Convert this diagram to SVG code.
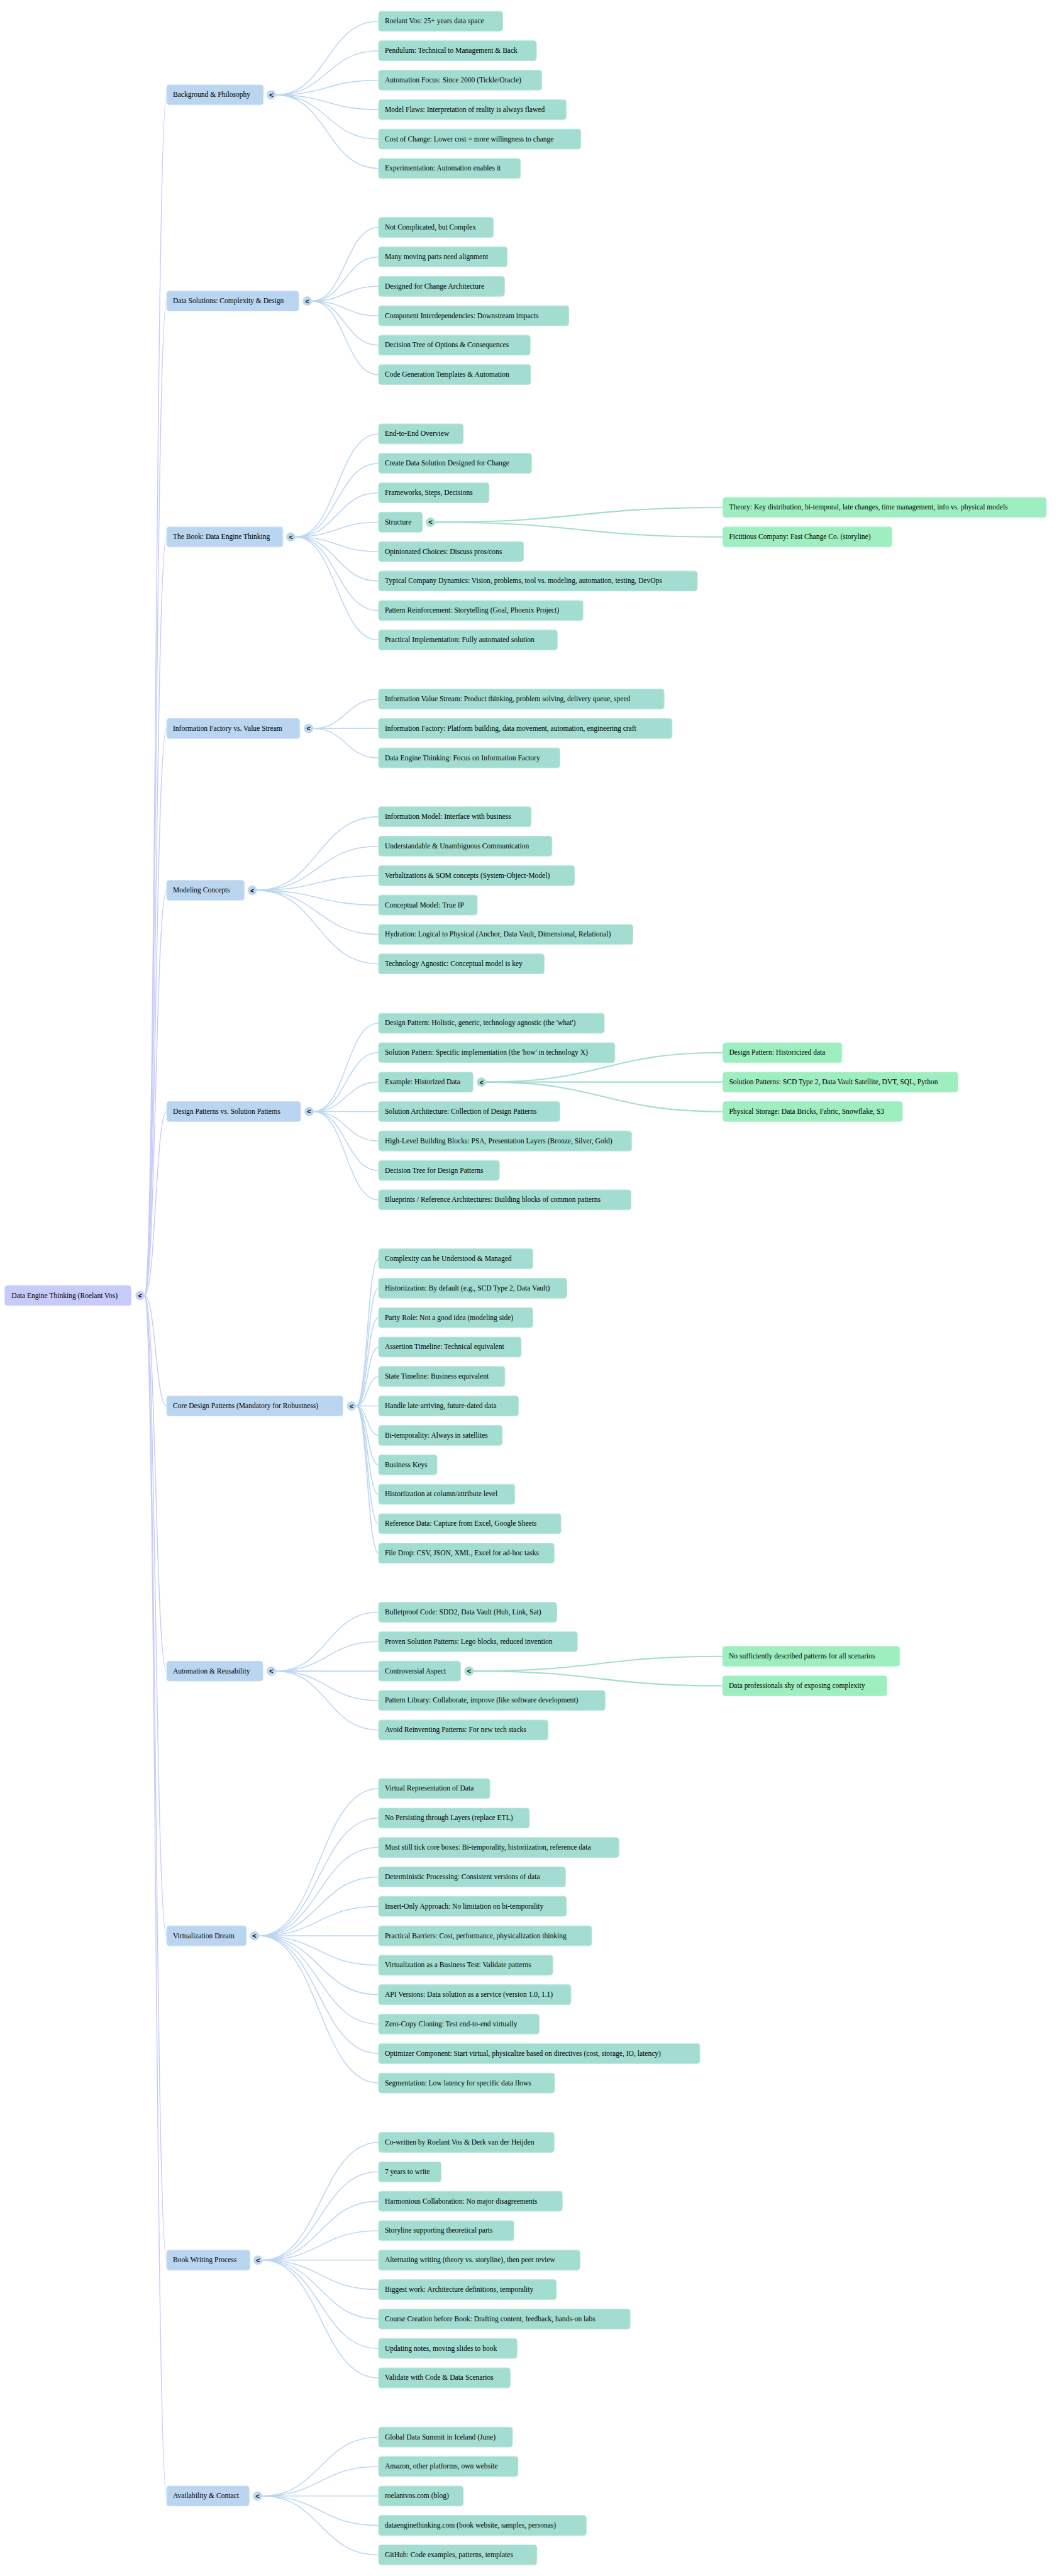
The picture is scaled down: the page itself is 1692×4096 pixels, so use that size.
<svg xmlns="http://www.w3.org/2000/svg" width="1692" height="4096" viewBox="0 0 1692 4096">
<style>
text{font-family:"Liberation Serif","Times New Roman",serif;font-size:16.4px;fill:#000;dominant-baseline:central}
.tg text{font-family:"Liberation Sans",Arial,sans-serif;font-size:15px;font-weight:bold;text-anchor:middle}
.r rect,.r circle{fill:#c6cbfb;stroke:#d3d7fc;stroke-width:1.5}
.l1 rect,.l1 circle{fill:#bad5f0;stroke:#cbe0f5;stroke-width:1.5}
.l2 rect,.l2 circle{fill:#a3ddd1;stroke:#b9e7dc;stroke-width:1.5}
.l3 rect{fill:#9eeec0;stroke:#b3f3ce;stroke-width:1.5}
#connectors path{fill:none}
.c0{stroke:#c5cbfb;stroke-width:2}
.c1{stroke:#bcd6f1;stroke-width:2.2}
.c2{stroke:#a3ddd1;stroke-width:3}
</style>
<rect width="1692" height="4096" fill="#fff"/>
<g transform="scale(0.705)">
<g id="connectors">
<path class="c0" d="M326 2922C351 2922 351 214 376 214"/>
<path class="c0" d="M326 2922C351 2922 351 679 376 679"/>
<path class="c0" d="M326 2922C351 2922 351 1211 376 1211"/>
<path class="c0" d="M326 2922C351 2922 351 1643 376 1643"/>
<path class="c0" d="M326 2922C351 2922 351 2008 376 2008"/>
<path class="c0" d="M326 2922C351 2922 351 2507 376 2507"/>
<path class="c0" d="M326 2922C351 2922 351 3171 376 3171"/>
<path class="c0" d="M326 2922C351 2922 351 3769 376 3769"/>
<path class="c0" d="M326 2922C351 2922 351 4366 376 4366"/>
<path class="c0" d="M326 2922C351 2922 351 5097.5 376 5097.5"/>
<path class="c0" d="M326 2922C351 2922 351 5629.5 376 5629.5"/>

<path class="c1" d="M622 214C738 214 738 48 854 48"/>
<path class="c1" d="M622 214C738 214 738 114.4 854 114.4"/>
<path class="c1" d="M622 214C738 214 738 180.8 854 180.8"/>
<path class="c1" d="M622 214C738 214 738 247.2 854 247.2"/>
<path class="c1" d="M622 214C738 214 738 313.6 854 313.6"/>
<path class="c1" d="M622 214C738 214 738 380 854 380"/>

<path class="c1" d="M703 679C778.5 679 778.5 513 854 513"/>
<path class="c1" d="M703 679C778.5 679 778.5 579.4 854 579.4"/>
<path class="c1" d="M703 679C778.5 679 778.5 645.8 854 645.8"/>
<path class="c1" d="M703 679C778.5 679 778.5 712.2 854 712.2"/>
<path class="c1" d="M703 679C778.5 679 778.5 778.6 854 778.6"/>
<path class="c1" d="M703 679C778.5 679 778.5 845 854 845"/>

<path class="c1" d="M666 1211C760 1211 760 978.6 854 978.6"/>
<path class="c1" d="M666 1211C760 1211 760 1045 854 1045"/>
<path class="c1" d="M666 1211C760 1211 760 1111.4 854 1111.4"/>
<path class="c1" d="M666 1211C760 1211 760 1177.8 854 1177.8"/>
<path class="c1" d="M666 1211C760 1211 760 1244.2 854 1244.2"/>
<path class="c1" d="M666 1211C760 1211 760 1310.6 854 1310.6"/>
<path class="c1" d="M666 1211C760 1211 760 1377 854 1377"/>
<path class="c1" d="M666 1211C760 1211 760 1443.4 854 1443.4"/>

<path class="c1" d="M706 1643C780 1643 780 1576.6 854 1576.6"/>
<path class="c1" d="M706 1643C780 1643 780 1643 854 1643"/>
<path class="c1" d="M706 1643C780 1643 780 1709.4 854 1709.4"/>

<path class="c1" d="M579 2008C716.5 2008 716.5 1842 854 1842"/>
<path class="c1" d="M579 2008C716.5 2008 716.5 1908.4 854 1908.4"/>
<path class="c1" d="M579 2008C716.5 2008 716.5 1974.8 854 1974.8"/>
<path class="c1" d="M579 2008C716.5 2008 716.5 2041.2 854 2041.2"/>
<path class="c1" d="M579 2008C716.5 2008 716.5 2107.6 854 2107.6"/>
<path class="c1" d="M579 2008C716.5 2008 716.5 2174 854 2174"/>

<path class="c1" d="M707 2507C780.5 2507 780.5 2307.8 854 2307.8"/>
<path class="c1" d="M707 2507C780.5 2507 780.5 2374.2 854 2374.2"/>
<path class="c1" d="M707 2507C780.5 2507 780.5 2440.6 854 2440.6"/>
<path class="c1" d="M707 2507C780.5 2507 780.5 2507 854 2507"/>
<path class="c1" d="M707 2507C780.5 2507 780.5 2573.4 854 2573.4"/>
<path class="c1" d="M707 2507C780.5 2507 780.5 2639.8 854 2639.8"/>
<path class="c1" d="M707 2507C780.5 2507 780.5 2706.2 854 2706.2"/>

<path class="c1" d="M803 3171C828.5 3171 828.5 2839 854 2839"/>
<path class="c1" d="M803 3171C828.5 3171 828.5 2905.4 854 2905.4"/>
<path class="c1" d="M803 3171C828.5 3171 828.5 2971.8 854 2971.8"/>
<path class="c1" d="M803 3171C828.5 3171 828.5 3038.2 854 3038.2"/>
<path class="c1" d="M803 3171C828.5 3171 828.5 3104.6 854 3104.6"/>
<path class="c1" d="M803 3171C828.5 3171 828.5 3171 854 3171"/>
<path class="c1" d="M803 3171C828.5 3171 828.5 3237.4 854 3237.4"/>
<path class="c1" d="M803 3171C828.5 3171 828.5 3303.8 854 3303.8"/>
<path class="c1" d="M803 3171C828.5 3171 828.5 3370.2 854 3370.2"/>
<path class="c1" d="M803 3171C828.5 3171 828.5 3436.6 854 3436.6"/>
<path class="c1" d="M803 3171C828.5 3171 828.5 3503 854 3503"/>

<path class="c1" d="M622 3769C738 3769 738 3636.2 854 3636.2"/>
<path class="c1" d="M622 3769C738 3769 738 3702.6 854 3702.6"/>
<path class="c1" d="M622 3769C738 3769 738 3769 854 3769"/>
<path class="c1" d="M622 3769C738 3769 738 3835.4 854 3835.4"/>
<path class="c1" d="M622 3769C738 3769 738 3901.8 854 3901.8"/>

<path class="c1" d="M584 4366C719 4366 719 4034 854 4034"/>
<path class="c1" d="M584 4366C719 4366 719 4100.4 854 4100.4"/>
<path class="c1" d="M584 4366C719 4366 719 4166.8 854 4166.8"/>
<path class="c1" d="M584 4366C719 4366 719 4233.2 854 4233.2"/>
<path class="c1" d="M584 4366C719 4366 719 4299.6 854 4299.6"/>
<path class="c1" d="M584 4366C719 4366 719 4366 854 4366"/>
<path class="c1" d="M584 4366C719 4366 719 4432.4 854 4432.4"/>
<path class="c1" d="M584 4366C719 4366 719 4498.8 854 4498.8"/>
<path class="c1" d="M584 4366C719 4366 719 4565.2 854 4565.2"/>
<path class="c1" d="M584 4366C719 4366 719 4631.6 854 4631.6"/>
<path class="c1" d="M584 4366C719 4366 719 4698 854 4698"/>

<path class="c1" d="M592 5097.5C723 5097.5 723 4831.9 854 4831.9"/>
<path class="c1" d="M592 5097.5C723 5097.5 723 4898.3 854 4898.3"/>
<path class="c1" d="M592 5097.5C723 5097.5 723 4964.7 854 4964.7"/>
<path class="c1" d="M592 5097.5C723 5097.5 723 5031.1 854 5031.1"/>
<path class="c1" d="M592 5097.5C723 5097.5 723 5097.5 854 5097.5"/>
<path class="c1" d="M592 5097.5C723 5097.5 723 5163.9 854 5163.9"/>
<path class="c1" d="M592 5097.5C723 5097.5 723 5230.3 854 5230.3"/>
<path class="c1" d="M592 5097.5C723 5097.5 723 5296.7 854 5296.7"/>
<path class="c1" d="M592 5097.5C723 5097.5 723 5363.1 854 5363.1"/>

<path class="c1" d="M591 5629.5C722.5 5629.5 722.5 5496.7 854 5496.7"/>
<path class="c1" d="M591 5629.5C722.5 5629.5 722.5 5563.1 854 5563.1"/>
<path class="c1" d="M591 5629.5C722.5 5629.5 722.5 5629.5 854 5629.5"/>
<path class="c1" d="M591 5629.5C722.5 5629.5 722.5 5695.9 854 5695.9"/>
<path class="c1" d="M591 5629.5C722.5 5629.5 722.5 5762.3 854 5762.3"/>

<path class="c2" d="M981 1177.8C1305.8 1177.8 1305.8 1144.6 1630.6 1144.6"/>
<path class="c2" d="M981 1177.8C1305.8 1177.8 1305.8 1211 1630.6 1211"/>
<path class="c2" d="M1096 2440.6C1363 2440.6 1363 2374.2 1630.6 2374.2"/>
<path class="c2" d="M1096 2440.6C1363 2440.6 1363 2440.6 1630.6 2440.6"/>
<path class="c2" d="M1096 2440.6C1363 2440.6 1363 2507 1630.6 2507"/>
<path class="c2" d="M1068 3769C1349 3769 1349 3735.8 1630 3735.8"/>
<path class="c2" d="M1068 3769C1349 3769 1349 3802.2 1630 3802.2"/>
</g>

<g id="root" class="r"><rect x="11" y="2899.5" width="285" height="45" rx="6"/><text x="26" y="2922">Data Engine Thinking (Roelant Vos)</text><g class="tg"><circle cx="316" cy="2922" r="10"/><text x="316" y="2922">&lt;</text></g></g>

<g id="n-background" class="l1"><rect x="376" y="191.5" width="218" height="45" rx="6"/><text x="390" y="214">Background &amp; Philosophy</text><g class="tg"><circle cx="612" cy="214" r="10"/><text x="612" y="214">&lt;</text></g></g>
<g id="n-datasolutions" class="l1"><rect x="376" y="656.5" width="298" height="45" rx="6"/><text x="390" y="679">Data Solutions: Complexity &amp; Design</text><g class="tg"><circle cx="693" cy="679" r="10"/><text x="693" y="679">&lt;</text></g></g>
<g id="n-book" class="l1"><rect x="376" y="1188.5" width="262" height="45" rx="6"/><text x="390" y="1211">The Book: Data Engine Thinking</text><g class="tg"><circle cx="656" cy="1211" r="10"/><text x="656" y="1211">&lt;</text></g></g>
<g id="n-infofactory" class="l1"><rect x="376" y="1620.5" width="300" height="45" rx="6"/><text x="390" y="1643">Information Factory vs. Value Stream</text><g class="tg"><circle cx="696" cy="1643" r="10"/><text x="696" y="1643">&lt;</text></g></g>
<g id="n-modeling" class="l1"><rect x="376" y="1985.5" width="175" height="45" rx="6"/><text x="390" y="2008">Modeling Concepts</text><g class="tg"><circle cx="569" cy="2008" r="10"/><text x="569" y="2008">&lt;</text></g></g>
<g id="n-designpatterns" class="l1"><rect x="376" y="2484.5" width="302" height="45" rx="6"/><text x="390" y="2507">Design Patterns vs. Solution Patterns</text><g class="tg"><circle cx="697" cy="2507" r="10"/><text x="697" y="2507">&lt;</text></g></g>
<g id="n-core" class="l1"><rect x="376" y="3148.5" width="397.5" height="45" rx="6"/><text x="390" y="3171">Core Design Patterns (Mandatory for Robustness)</text><g class="tg"><circle cx="793" cy="3171" r="10"/><text x="793" y="3171">&lt;</text></g></g>
<g id="n-automation" class="l1"><rect x="376" y="3746.5" width="217" height="45" rx="6"/><text x="390" y="3769">Automation &amp; Reusability</text><g class="tg"><circle cx="612" cy="3769" r="10"/><text x="612" y="3769">&lt;</text></g></g>
<g id="n-virtualization" class="l1"><rect x="376" y="4343.5" width="179.5" height="45" rx="6"/><text x="390" y="4366">Virtualization Dream</text><g class="tg"><circle cx="574" cy="4366" r="10"/><text x="574" y="4366">&lt;</text></g></g>
<g id="n-bookwriting" class="l1"><rect x="376" y="5075" width="188" height="45" rx="6"/><text x="390" y="5097.5">Book Writing Process</text><g class="tg"><circle cx="582" cy="5097.5" r="10"/><text x="582" y="5097.5">&lt;</text></g></g>
<g id="n-availability" class="l1"><rect x="376" y="5607" width="186" height="45" rx="6"/><text x="390" y="5629.5">Availability &amp; Contact</text><g class="tg"><circle cx="581" cy="5629.5" r="10"/><text x="581" y="5629.5">&lt;</text></g></g>

<g id="n-bg-1" class="l2"><rect x="854" y="25.5" width="280" height="45" rx="6"/><text x="868" y="48">Roelant Vos: 25+ years data space</text></g>
<g id="n-bg-2" class="l2"><rect x="854" y="91.9" width="356" height="45" rx="6"/><text x="868" y="114.4">Pendulum: Technical to Management &amp; Back</text></g>
<g id="n-bg-3" class="l2"><rect x="854" y="158.3" width="368" height="45" rx="6"/><text x="868" y="180.8">Automation Focus: Since 2000 (Tickle/Oracle)</text></g>
<g id="n-bg-4" class="l2"><rect x="854" y="224.7" width="423" height="45" rx="6"/><text x="868" y="247.2">Model Flaws: Interpretation of reality is always flawed</text></g>
<g id="n-bg-5" class="l2"><rect x="854" y="291.1" width="456" height="45" rx="6"/><text x="868" y="313.6">Cost of Change: Lower cost = more willingness to change</text></g>
<g id="n-bg-6" class="l2"><rect x="854" y="357.5" width="320" height="45" rx="6"/><text x="868" y="380">Experimentation: Automation enables it</text></g>

<g id="n-ds-1" class="l2"><rect x="854" y="490.5" width="259" height="45" rx="6"/><text x="868" y="513">Not Complicated, but Complex</text></g>
<g id="n-ds-2" class="l2"><rect x="854" y="556.9" width="290" height="45" rx="6"/><text x="868" y="579.4">Many moving parts need alignment</text></g>
<g id="n-ds-3" class="l2"><rect x="854" y="623.3" width="284" height="45" rx="6"/><text x="868" y="645.8">Designed for Change Architecture</text></g>
<g id="n-ds-4" class="l2"><rect x="854" y="689.7" width="429" height="45" rx="6"/><text x="868" y="712.2">Component Interdependencies: Downstream impacts</text></g>
<g id="n-ds-5" class="l2"><rect x="854" y="756.1" width="342" height="45" rx="6"/><text x="868" y="778.6">Decision Tree of Options &amp; Consequences</text></g>
<g id="n-ds-6" class="l2"><rect x="854" y="822.5" width="343" height="45" rx="6"/><text x="868" y="845">Code Generation Templates &amp; Automation</text></g>

<g id="n-bk-1" class="l2"><rect x="854" y="956.1" width="191" height="45" rx="6"/><text x="868" y="978.6">End-to-End Overview</text></g>
<g id="n-bk-2" class="l2"><rect x="854" y="1022.5" width="345" height="45" rx="6"/><text x="868" y="1045">Create Data Solution Designed for Change</text></g>
<g id="n-bk-3" class="l2"><rect x="854" y="1088.9" width="249" height="45" rx="6"/><text x="868" y="1111.4">Frameworks, Steps, Decisions</text></g>
<g id="n-bk-4" class="l2"><rect x="854" y="1155.3" width="99" height="45" rx="6"/><text x="868" y="1177.8">Structure</text><g class="tg"><circle cx="971" cy="1177.8" r="10"/><text x="971" y="1177.8">&lt;</text></g></g>
<g id="n-bk-5" class="l2"><rect x="854" y="1221.7" width="327" height="45" rx="6"/><text x="868" y="1244.2">Opinionated Choices: Discuss pros/cons</text></g>
<g id="n-bk-6" class="l2"><rect x="854" y="1288.1" width="719" height="45" rx="6"/><text x="868" y="1310.6">Typical Company Dynamics: Vision, problems, tool vs. modeling, automation, testing, DevOps</text></g>
<g id="n-bk-7" class="l2"><rect x="854" y="1354.5" width="461" height="45" rx="6"/><text x="868" y="1377">Pattern Reinforcement: Storytelling (Goal, Phoenix Project)</text></g>
<g id="n-bk-8" class="l2"><rect x="854" y="1420.9" width="403" height="45" rx="6"/><text x="868" y="1443.4">Practical Implementation: Fully automated solution</text></g>
<g id="n-bk-4-1" class="l3"><rect x="1630.6" y="1122.1" width="729.4" height="45" rx="6"/><text x="1644.6" y="1144.6">Theory: Key distribution, bi-temporal, late changes, time management, info vs. physical models</text></g>
<g id="n-bk-4-2" class="l3"><rect x="1630.6" y="1188.5" width="381.4" height="45" rx="6"/><text x="1644.6" y="1211">Fictitious Company: Fast Change Co. (storyline)</text></g>

<g id="n-if-1" class="l2"><rect x="854" y="1554.1" width="644" height="45" rx="6"/><text x="868" y="1576.6">Information Value Stream: Product thinking, problem solving, delivery queue, speed</text></g>
<g id="n-if-2" class="l2"><rect x="854" y="1620.5" width="662" height="45" rx="6"/><text x="868" y="1643">Information Factory: Platform building, data movement, automation, engineering craft</text></g>
<g id="n-if-3" class="l2"><rect x="854" y="1686.9" width="409" height="45" rx="6"/><text x="868" y="1709.4">Data Engine Thinking: Focus on Information Factory</text></g>

<g id="n-mc-1" class="l2"><rect x="854" y="1819.5" width="344" height="45" rx="6"/><text x="868" y="1842">Information Model: Interface with business</text></g>
<g id="n-mc-2" class="l2"><rect x="854" y="1885.9" width="391" height="45" rx="6"/><text x="868" y="1908.4">Understandable &amp; Unambiguous Communication</text></g>
<g id="n-mc-3" class="l2"><rect x="854" y="1952.3" width="442" height="45" rx="6"/><text x="868" y="1974.8">Verbalizations &amp; SOM concepts (System-Object-Model)</text></g>
<g id="n-mc-4" class="l2"><rect x="854" y="2018.7" width="222.5" height="45" rx="6"/><text x="868" y="2041.2">Conceptual Model: True IP</text></g>
<g id="n-mc-5" class="l2"><rect x="854" y="2085.1" width="573.6" height="45" rx="6"/><text x="868" y="2107.6">Hydration: Logical to Physical (Anchor, Data Vault, Dimensional, Relational)</text></g>
<g id="n-mc-6" class="l2"><rect x="854" y="2151.5" width="373.6" height="45" rx="6"/><text x="868" y="2174">Technology Agnostic: Conceptual model is key</text></g>

<g id="n-dp-1" class="l2"><rect x="854" y="2285.3" width="509" height="45" rx="6"/><text x="868" y="2307.8">Design Pattern: Holistic, generic, technology agnostic (the 'what')</text></g>
<g id="n-dp-2" class="l2"><rect x="854" y="2351.7" width="533" height="45" rx="6"/><text x="868" y="2374.2">Solution Pattern: Specific implementation (the 'how' in technology X)</text></g>
<g id="n-dp-3" class="l2"><rect x="854" y="2418.1" width="213" height="45" rx="6"/><text x="868" y="2440.6">Example: Historized Data</text><g class="tg"><circle cx="1086" cy="2440.6" r="10"/><text x="1086" y="2440.6">&lt;</text></g></g>
<g id="n-dp-4" class="l2"><rect x="854" y="2484.5" width="409" height="45" rx="6"/><text x="868" y="2507">Solution Architecture: Collection of Design Patterns</text></g>
<g id="n-dp-5" class="l2"><rect x="854" y="2550.9" width="570.5" height="45" rx="6"/><text x="868" y="2573.4">High-Level Building Blocks: PSA, Presentation Layers (Bronze, Silver, Gold)</text></g>
<g id="n-dp-6" class="l2"><rect x="854" y="2617.3" width="272.5" height="45" rx="6"/><text x="868" y="2639.8">Decision Tree for Design Patterns</text></g>
<g id="n-dp-7" class="l2"><rect x="854" y="2683.7" width="569.5" height="45" rx="6"/><text x="868" y="2706.2">Blueprints / Reference Architectures: Building blocks of common patterns</text></g>
<g id="n-dp-3-1" class="l3"><rect x="1630.6" y="2351.7" width="268.4" height="45" rx="6"/><text x="1644.6" y="2374.2">Design Pattern: Historicized data</text></g>
<g id="n-dp-3-2" class="l3"><rect x="1630.6" y="2418.1" width="530.4" height="45" rx="6"/><text x="1644.6" y="2440.6">Solution Patterns: SCD Type 2, Data Vault Satellite, DVT, SQL, Python</text></g>
<g id="n-dp-3-3" class="l3"><rect x="1630.6" y="2484.5" width="405" height="45" rx="6"/><text x="1644.6" y="2507">Physical Storage: Data Bricks, Fabric, Snowflake, S3</text></g>

<g id="n-cd-1" class="l2"><rect x="854" y="2816.5" width="348" height="45" rx="6"/><text x="868" y="2839">Complexity can be Understood &amp; Managed</text></g>
<g id="n-cd-2" class="l2"><rect x="854" y="2882.9" width="424.6" height="45" rx="6"/><text x="868" y="2905.4">Historiization: By default (e.g., SCD Type 2, Data Vault)</text></g>
<g id="n-cd-3" class="l2"><rect x="854" y="2949.3" width="348" height="45" rx="6"/><text x="868" y="2971.8">Party Role: Not a good idea (modeling side)</text></g>
<g id="n-cd-4" class="l2"><rect x="854" y="3015.7" width="321.5" height="45" rx="6"/><text x="868" y="3038.2">Assertion Timeline: Technical equivalent</text></g>
<g id="n-cd-5" class="l2"><rect x="854" y="3082.1" width="284.8" height="45" rx="6"/><text x="868" y="3104.6">State Timeline: Business equivalent</text></g>
<g id="n-cd-6" class="l2"><rect x="854" y="3148.5" width="315.4" height="45" rx="6"/><text x="868" y="3171">Handle late-arriving, future-dated data</text></g>
<g id="n-cd-7" class="l2"><rect x="854" y="3214.9" width="278.7" height="45" rx="6"/><text x="868" y="3237.4">Bi-temporality: Always in satellites</text></g>
<g id="n-cd-8" class="l2"><rect x="854" y="3281.3" width="131.7" height="45" rx="6"/><text x="868" y="3303.8">Business Keys</text></g>
<g id="n-cd-9" class="l2"><rect x="854" y="3347.7" width="307.2" height="45" rx="6"/><text x="868" y="3370.2">Historiization at column/attribute level</text></g>
<g id="n-cd-10" class="l2"><rect x="854" y="3414.1" width="411.3" height="45" rx="6"/><text x="868" y="3436.6">Reference Data: Capture from Excel, Google Sheets</text></g>
<g id="n-cd-11" class="l2"><rect x="854" y="3480.5" width="396" height="45" rx="6"/><text x="868" y="3503">File Drop: CSV, JSON, XML, Excel for ad-hoc tasks</text></g>

<g id="n-au-1" class="l2"><rect x="854" y="3613.7" width="402" height="45" rx="6"/><text x="868" y="3636.2">Bulletproof Code: SDD2, Data Vault (Hub, Link, Sat)</text></g>
<g id="n-au-2" class="l2"><rect x="854" y="3680.1" width="448.4" height="45" rx="6"/><text x="868" y="3702.6">Proven Solution Patterns: Lego blocks, reduced invention</text></g>
<g id="n-au-3" class="l2"><rect x="854" y="3746.5" width="184.8" height="45" rx="6"/><text x="868" y="3769">Controversial Aspect</text><g class="tg"><circle cx="1058" cy="3769" r="10"/><text x="1058" y="3769">&lt;</text></g></g>
<g id="n-au-4" class="l2"><rect x="854" y="3812.9" width="511" height="45" rx="6"/><text x="868" y="3835.4">Pattern Library: Collaborate, improve (like software development)</text></g>
<g id="n-au-5" class="l2"><rect x="854" y="3879.3" width="382" height="45" rx="6"/><text x="868" y="3901.8">Avoid Reinventing Patterns: For new tech stacks</text></g>
<g id="n-au-3-1" class="l3"><rect x="1630" y="3713.3" width="399.5" height="45" rx="6"/><text x="1644" y="3735.8">No sufficiently described patterns for all scenarios</text></g>
<g id="n-au-3-2" class="l3"><rect x="1630" y="3779.7" width="370.6" height="45" rx="6"/><text x="1644" y="3802.2">Data professionals shy of exposing complexity</text></g>

<g id="n-vd-1" class="l2"><rect x="854" y="4011.5" width="251" height="45" rx="6"/><text x="868" y="4034">Virtual Representation of Data</text></g>
<g id="n-vd-2" class="l2"><rect x="854" y="4077.9" width="340" height="45" rx="6"/><text x="868" y="4100.4">No Persisting through Layers (replace ETL)</text></g>
<g id="n-vd-3" class="l2"><rect x="854" y="4144.3" width="542" height="45" rx="6"/><text x="868" y="4166.8">Must still tick core boxes: Bi-temporality, historiization, reference data</text></g>
<g id="n-vd-4" class="l2"><rect x="854" y="4210.7" width="421.5" height="45" rx="6"/><text x="868" y="4233.2">Deterministic Processing: Consistent versions of data</text></g>
<g id="n-vd-5" class="l2"><rect x="854" y="4277.1" width="423.6" height="45" rx="6"/><text x="868" y="4299.6">Insert-Only Approach: No limitation on bi-temporality</text></g>
<g id="n-vd-6" class="l2"><rect x="854" y="4343.5" width="480.7" height="45" rx="6"/><text x="868" y="4366">Practical Barriers: Cost, performance, physicalization thinking</text></g>
<g id="n-vd-7" class="l2"><rect x="854" y="4409.9" width="393" height="45" rx="6"/><text x="868" y="4432.4">Virtualization as a Business Test: Validate patterns</text></g>
<g id="n-vd-8" class="l2"><rect x="854" y="4476.3" width="433.8" height="45" rx="6"/><text x="868" y="4498.8">API Versions: Data solution as a service (version 1.0, 1.1)</text></g>
<g id="n-vd-9" class="l2"><rect x="854" y="4542.7" width="362.3" height="45" rx="6"/><text x="868" y="4565.2">Zero-Copy Cloning: Test end-to-end virtually</text></g>
<g id="n-vd-10" class="l2"><rect x="854" y="4609.1" width="724.6" height="45" rx="6"/><text x="868" y="4631.6">Optimizer Component: Start virtual, physicalize based on directives (cost, storage, IO, latency)</text></g>
<g id="n-vd-11" class="l2"><rect x="854" y="4675.5" width="397" height="45" rx="6"/><text x="868" y="4698">Segmentation: Low latency for specific data flows</text></g>

<g id="n-bw-1" class="l2"><rect x="854" y="4809.4" width="396" height="45" rx="6"/><text x="868" y="4831.9">Co-written by Roelant Vos &amp; Derk van der Heijden</text></g>
<g id="n-bw-2" class="l2"><rect x="854" y="4875.8" width="141" height="45" rx="6"/><text x="868" y="4898.3">7 years to write</text></g>
<g id="n-bw-3" class="l2"><rect x="854" y="4942.2" width="414.4" height="45" rx="6"/><text x="868" y="4964.7">Harmonious Collaboration: No major disagreements</text></g>
<g id="n-bw-4" class="l2"><rect x="854" y="5008.6" width="305.2" height="45" rx="6"/><text x="868" y="5031.1">Storyline supporting theoretical parts</text></g>
<g id="n-bw-5" class="l2"><rect x="854" y="5075" width="454.2" height="45" rx="6"/><text x="868" y="5097.5">Alternating writing (theory vs. storyline), then peer review</text></g>
<g id="n-bw-6" class="l2"><rect x="854" y="5141.4" width="401" height="45" rx="6"/><text x="868" y="5163.9">Biggest work: Architecture definitions, temporality</text></g>
<g id="n-bw-7" class="l2"><rect x="854" y="5207.8" width="567.4" height="45" rx="6"/><text x="868" y="5230.3">Course Creation before Book: Drafting content, feedback, hands-on labs</text></g>
<g id="n-bw-8" class="l2"><rect x="854" y="5274.2" width="312.3" height="45" rx="6"/><text x="868" y="5296.7">Updating notes, moving slides to book</text></g>
<g id="n-bw-9" class="l2"><rect x="854" y="5340.6" width="297" height="45" rx="6"/><text x="868" y="5363.1">Validate with Code &amp; Data Scenarios</text></g>

<g id="n-av-1" class="l2"><rect x="854" y="5474.2" width="302" height="45" rx="6"/><text x="868" y="5496.7">Global Data Summit in Iceland (June)</text></g>
<g id="n-av-2" class="l2"><rect x="854" y="5540.6" width="314.4" height="45" rx="6"/><text x="868" y="5563.1">Amazon, other platforms, own website</text></g>
<g id="n-av-3" class="l2"><rect x="854" y="5607" width="191" height="45" rx="6"/><text x="868" y="5629.5">roelantvos.com (blog)</text></g>
<g id="n-av-4" class="l2"><rect x="854" y="5673.4" width="468.4" height="45" rx="6"/><text x="868" y="5695.9">dataenginethinking.com (book website, samples, personas)</text></g>
<g id="n-av-5" class="l2"><rect x="854" y="5739.8" width="357" height="45" rx="6"/><text x="868" y="5762.3">GitHub: Code examples, patterns, templates</text></g>
</g>
</svg>
